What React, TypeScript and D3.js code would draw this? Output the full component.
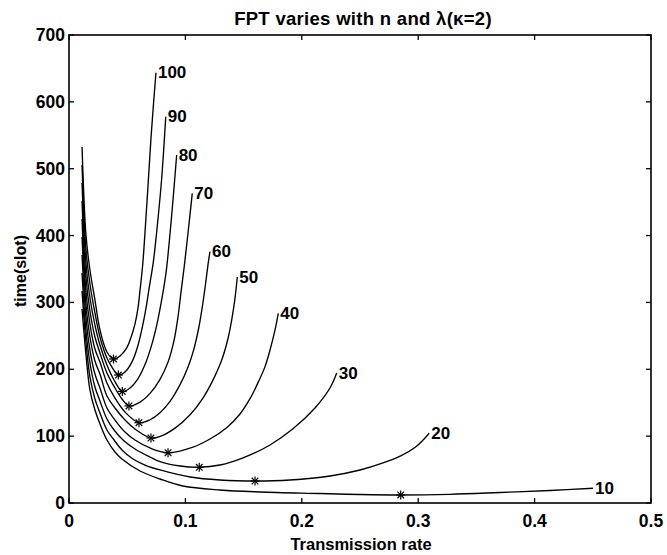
import React from 'react';
import * as d3 from 'd3';

const title = 'FPT varies with n and \u03bb(\u03ba=2)';
const xLabel = 'Transmission rate';
const yLabel = 'time(slot)';
const xTicks = [0, 0.1, 0.2, 0.3, 0.4, 0.5];
const yTicks = [0, 100, 200, 300, 400, 500, 600, 700];

const seriesN = [10, 20, 30, 40, 50, 60, 70, 80, 90, 100];

const c10x = [0.0112, 0.0146, 0.018, 0.0223, 0.0266, 0.0326, 0.0395, 0.0455, 0.061, 0.0782, 0.0979, 0.1297, 0.1641, 0.2156, 0.25, 0.285, 0.3273, 0.3702, 0.4132, 0.4502];
const c10y = [290.2, 221.4, 169, 139.1, 118.2, 94.2, 76.3, 65.8, 47.9, 35.9, 25.4, 19.4, 16.5, 14.2, 12.7, 12.0, 13.0, 15.7, 18.7, 22.0];

const c20x = [0.0112, 0.0146, 0.018, 0.0223, 0.0266, 0.0326, 0.0387, 0.0455, 0.055, 0.0653, 0.0782, 0.104, 0.1297, 0.1598, 0.1899, 0.2242, 0.25, 0.2698, 0.285, 0.298, 0.3095];
const c20y = [317.1, 239.3, 188.5, 155.6, 134.6, 109.2, 94.2, 79.3, 65.8, 56.8, 49.4, 38.9, 34.4, 32.9, 34.4, 40.4, 49.4, 60, 70.5, 84, 104.3];

const c30x = [0.0112, 0.0146, 0.018, 0.0223, 0.0266, 0.0326, 0.0387, 0.0464, 0.0567, 0.0696, 0.0782, 0.0954, 0.1119, 0.1297, 0.1495, 0.1727, 0.1924, 0.2113, 0.2242, 0.23];
const c30y = [344, 257.3, 209.4, 173.5, 152.6, 125.6, 109.2, 94.2, 80.8, 68.8, 61.8, 55.3, 53.4, 56.8, 67.5, 86.8, 111, 142.1, 172, 194.4];

const c40x = [0.0112, 0.0146, 0.018, 0.0223, 0.0266, 0.0326, 0.0395, 0.0481, 0.0567, 0.0696, 0.0851, 0.1065, 0.1211, 0.1357, 0.1469, 0.1555, 0.1624, 0.1684, 0.1727, 0.177, 0.1798];
const c40y = [370.9, 276.7, 228.8, 192.9, 172, 142.1, 124.1, 106.2, 94.2, 82.3, 75.2, 83.5, 95.7, 113, 133.1, 156, 180, 204, 228.8, 258.8, 283.7];

const c50x = [0.0112, 0.0146, 0.018, 0.0223, 0.0266, 0.0326, 0.0395, 0.0481, 0.0567, 0.0704, 0.0782, 0.0911, 0.104, 0.1151, 0.1226, 0.1312, 0.1366, 0.14, 0.1426, 0.1446];
const c50y = [397.9, 296.1, 248.3, 212.4, 192.9, 160, 142.1, 124.1, 110.7, 97.2, 99.5, 112, 132, 157, 180, 213.9, 246, 276, 306, 338];

const c60x = [0.0112, 0.0146, 0.018, 0.0223, 0.0266, 0.0326, 0.0395, 0.0481, 0.0601, 0.0696, 0.0782, 0.0868, 0.0954, 0.1022, 0.1074, 0.1117, 0.1151, 0.1177, 0.1197, 0.1211];
const c60y = [424.8, 315.6, 267.7, 230.3, 210.9, 179.5, 157, 136.1, 120.1, 124.5, 135, 152, 177, 203, 231, 264, 300, 333, 360, 375.9];

const c70x = [0.0112, 0.0146, 0.018, 0.0223, 0.0266, 0.0326, 0.0395, 0.0455, 0.0515, 0.061, 0.0696, 0.0782, 0.0851, 0.0902, 0.0936, 0.0962, 0.0991, 0.1025, 0.1059];
const c70y = [451.7, 336.5, 287.2, 248.3, 224.4, 194.4, 172, 155.6, 145.1, 151, 164, 185, 211, 243, 278, 315, 355, 408, 463.2];

const c80x = [0.0112, 0.0146, 0.018, 0.0223, 0.0266, 0.0326, 0.0387, 0.0458, 0.0524, 0.0593, 0.0653, 0.0713, 0.0756, 0.079, 0.082, 0.0839, 0.0882, 0.0925];
const c80y = [478.6, 357.5, 306.6, 266.2, 236.3, 206.4, 184, 166.8, 172, 186, 207, 238, 268, 298, 328, 352, 430, 520.5];

const c90x = [0.0112, 0.0146, 0.018, 0.0223, 0.0266, 0.0326, 0.0369, 0.0424, 0.0481, 0.0541, 0.0593, 0.0636, 0.0666, 0.0687, 0.0724, 0.0753, 0.0796, 0.0831];
const c90y = [505.5, 378.4, 327.6, 284.2, 248.3, 216.9, 203.4, 191.4, 196, 211, 236, 268, 296, 320, 360, 405, 485, 577.8];

const c100x = [0.0112, 0.0146, 0.018, 0.0223, 0.0266, 0.0326, 0.0382, 0.0438, 0.0496, 0.0533, 0.0567, 0.0593, 0.061, 0.0633, 0.0653, 0.0679, 0.0704, 0.0726, 0.0747];
const c100y = [532.5, 400.8, 348.5, 303.6, 258.8, 225.9, 215.4, 220, 232, 248, 268, 292, 318, 356, 405, 475, 545, 597, 643.6];

const starX = [0.285, 0.1598, 0.1119, 0.0851, 0.0704, 0.0601, 0.0515, 0.0458, 0.0424, 0.0382];
const starY = [12.0, 32.9, 53.4, 75.2, 97.2, 120.1, 145.1, 166.8, 191.4, 215.4];

const curveXs = [c10x, c20x, c30x, c40x, c50x, c60x, c70x, c80x, c90x, c100x];
const curveYs = [c10y, c20y, c30y, c40y, c50y, c60y, c70y, c80y, c90y, c100y];

const W = 667;
const H = 555;
const L = 69;
const R = 651;
const T = 35;
const B = 503;

export default function App() {
  const x = d3.scaleLinear().domain([0, 0.5]).range([L, R]);
  const y = d3.scaleLinear().domain([0, 700]).range([B, T]);
  const line = d3
    .line<[number, number]>()
    .x((d) => x(d[0]))
    .y((d) => y(d[1]))
    .curve(d3.curveCatmullRom.alpha(0.5));
  const font = 'Liberation Sans, Arial, Helvetica, sans-serif';
  const tick = 5;

  return (
    <svg
      width={W}
      height={H}
      style={{ position: 'absolute', left: 0, top: 0, background: '#fff' }}
      fontFamily={font}
    >
      <rect x={0} y={0} width={W} height={H} fill="#fff" />
      {curveXs.map((xs, i) => {
        const pts = xs.map((v, j) => [v, curveYs[i][j]] as [number, number]);
        const last = pts[pts.length - 1];
        return (
          <g key={seriesN[i]}>
            <path d={line(pts) || ''} fill="none" stroke="#000" strokeWidth={1.35} />
            <text
              x={x(last[0]) + 2}
              y={y(last[1])}
              dominantBaseline="central"
              fontSize={17}
              fontWeight="bold"
              fill="#000"
            >
              {seriesN[i]}
            </text>
          </g>
        );
      })}
      {starX.map((sx, i) => {
        const cx = x(sx);
        const cy = y(starY[i]);
        const s = 4.5;
        const d = 3.3;
        return (
          <g key={'s' + i} stroke="#000" strokeWidth={1.2}>
            <line x1={cx - s} y1={cy} x2={cx + s} y2={cy} />
            <line x1={cx} y1={cy - s} x2={cx} y2={cy + s} />
            <line x1={cx - d} y1={cy - d} x2={cx + d} y2={cy + d} />
            <line x1={cx - d} y1={cy + d} x2={cx + d} y2={cy - d} />
          </g>
        );
      })}
      <rect x={L} y={T} width={R - L} height={B - T} fill="none" stroke="#000" strokeWidth={1.6} />
      {xTicks.map((t) => (
        <g key={'xt' + t}>
          <line x1={x(t)} x2={x(t)} y1={B} y2={B - tick} stroke="#000" strokeWidth={1.3} />
          <line x1={x(t)} x2={x(t)} y1={T} y2={T + tick} stroke="#000" strokeWidth={1.3} />
          <text x={x(t)} y={B + 18} textAnchor="middle" dominantBaseline="central" fontSize={17.5} fontWeight="bold">
            {d3.format('~g')(t)}
          </text>
        </g>
      ))}
      {yTicks.map((t) => (
        <g key={'yt' + t}>
          <line x1={L} x2={L + tick} y1={y(t)} y2={y(t)} stroke="#000" strokeWidth={1.3} />
          <line x1={R} x2={R - tick} y1={y(t)} y2={y(t)} stroke="#000" strokeWidth={1.3} />
          <text x={L - 4} y={y(t)} textAnchor="end" dominantBaseline="central" fontSize={17.5} fontWeight="bold">
            {t}
          </text>
        </g>
      ))}
      <text
        x={(L + R) / 2 + 3}
        y={18}
        textAnchor="middle"
        dominantBaseline="central"
        fontSize={18.5}
        fontWeight="bold"
        letterSpacing={0.3}
      >
        {title}
      </text>
      <text x={361} y={544} textAnchor="middle" dominantBaseline="central" fontSize={16.5} fontWeight="bold">
        {xLabel}
      </text>
      <text
        transform={`translate(20, 271) rotate(-90)`}
        textAnchor="middle"
        dominantBaseline="central"
        fontSize={16}
        fontWeight="bold"
      >
        {yLabel}
      </text>
    </svg>
  );
}
